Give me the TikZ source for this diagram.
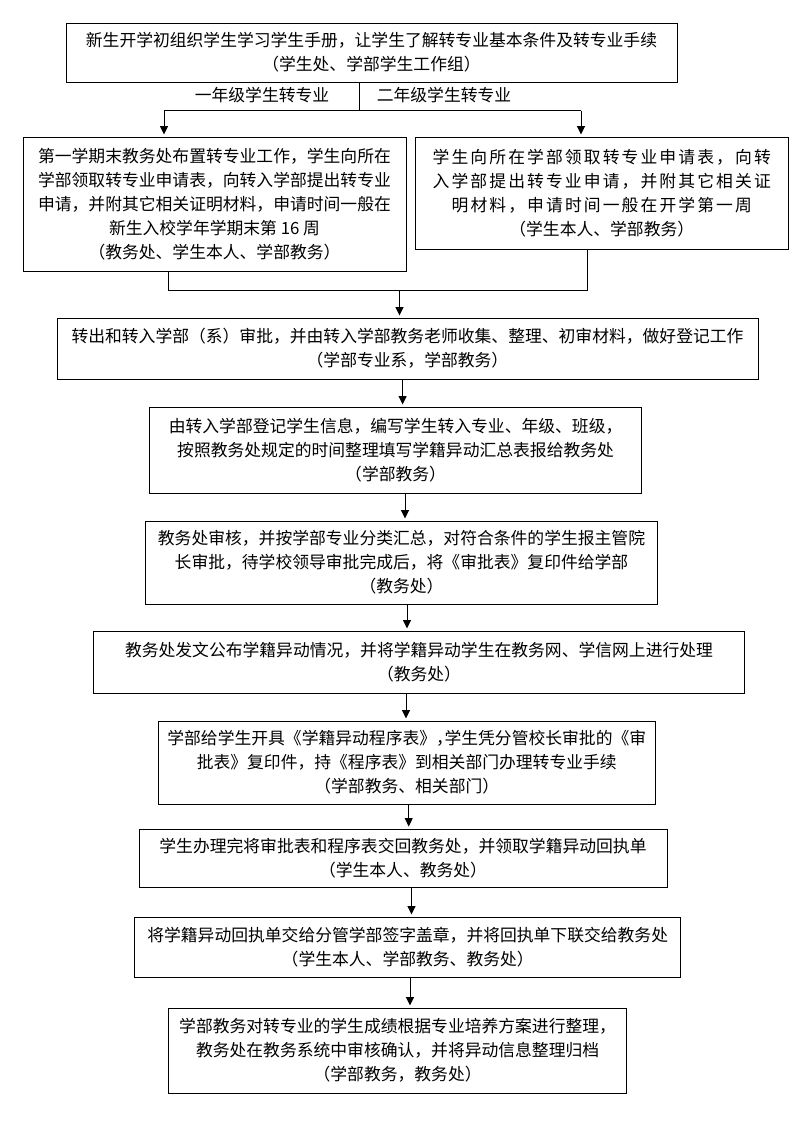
\documentclass[tikz,border=0pt]{standalone}
\usepackage{fontspec}
\setmainfont{Noto Sans CJK SC}
\newfontfamily\widecjk[LetterSpace=12.5]{Noto Sans CJK SC}
\usetikzlibrary{arrows.meta}
\tikzset{
  box/.style={draw, line width=1pt, inner sep=0pt, align=center,
    font=\fontsize{16.8}{24}\selectfont},
  lbl/.style={inner sep=0pt, font=\fontsize{16.8}{24}\selectfont},
  conn/.style={line width=1pt},
  arr/.style={line width=1pt, -{Triangle[length=8.5pt,width=8pt]}, shorten >=2pt}
}
\begin{document}
\begin{tikzpicture}[x=1pt,y=-1pt]
\useasboundingbox[fill=white] (0,0) rectangle (806,1144);

\node[box, minimum width=611, minimum height=59] (b1) at (371.5,52.5)
  {新生开学初组织学生学习学生手册，让学生了解转专业基本条件及转专业手续\\（学生处、学部学生工作组）};

\node[box, minimum width=383, minimum height=134] (b2) at (214.5,204)
  {第一学期末教务处布置转专业工作，学生向所在\\学部领取转专业申请表，向转入学部提出转专业\\申请，并附其它相关证明材料，申请时间一般在\\新生入校学年学期末第 16 周\\（教务处、学生本人、学部教务）};

\node[box, minimum width=372.5, minimum height=112] (b3) at (601.75,193)
  {{\widecjk 学生向所在学部领取转专业申请表，向转}\\{\widecjk 入学部提出转专业申请，并附其它相关证}\\{\widecjk 明材料，申请时间一般在开学第一周}\\（学生本人、学部教务）};

\node[box, minimum width=701, minimum height=61] (b4) at (407.5,348.5)
  {转出和转入学部（系）审批，并由转入学部教务老师收集、整理、初审材料，做好登记工作\\（学部专业系，学部教务）};

\node[box, minimum width=492, minimum height=86] (b5) at (395.6,450)
  {由转入学部登记学生信息，编写学生转入专业、年级、班级，\\按照教务处规定的时间整理填写学籍异动汇总表报给教务处\\（学部教务）};

\node[box, minimum width=512, minimum height=83] (b6) at (401.5,562.5)
  {教务处审核，并按学部专业分类汇总，对符合条件的学生报主管院\\长审批，待学校领导审批完成后，将《审批表》复印件给学部\\（教务处）};

\node[box, minimum width=651, minimum height=62] (b7) at (419,662)
  {教务处发文公布学籍异动情况，并将学籍异动学生在教务网、学信网上进行处理\\（教务处）};

\node[box, minimum width=497.5, minimum height=83] (b8) at (406.75,762.5)
  {学部给学生开具《学籍异动程序表》{\addfontfeature{RawFeature=+halt}，}学生凭分管校长审批的《审\\批表》复印件，持《程序表》到相关部门办理转专业手续\\（学部教务、相关部门）};

\node[box, minimum width=528, minimum height=58] (b9) at (403,858)
  {学生办理完将审批表和程序表交回教务处，并领取学籍异动回执单\\（学生本人、教务处）};

\node[box, minimum width=546, minimum height=60] (b10) at (407.7,947)
  {将学籍异动回执单交给分管学部签字盖章，并将回执单下联交给教务处\\（学生本人、学部教务、教务处）};

\node[box, minimum width=458, minimum height=85] (b11) at (397.6,1050.5)
  {学部教务对转专业的学生成绩根据专业培养方案进行整理，\\教务处在教务系统中审核确认，并将异动信息整理归档\\（学部教务，教务处）};

% labels
\node[lbl] (l1) at (262,95) {一年级学生转专业};
\node[lbl] (l2) at (444,95) {二年级学生转专业};

% split
\coordinate (s) at (359,110.5);
\coordinate (sl) at (164,110.5);
\coordinate (sr) at (581,110.5);
\draw[conn] (b1.south -| s) -- (s);
\draw[conn] (sl) -- (sr);
\draw[arr] (sl) -- (sl |- b2.north);
\draw[arr] (sr) -- (sr |- b3.north);

% merge
\coordinate (ml) at (168.6,290.5);
\coordinate (mr) at (587.7,290.5);
\coordinate (m) at (399.5,290.5);
\draw[conn] (ml |- b2.south) -- (ml) -- (mr) -- (mr |- b3.south);
\draw[arr] (m) -- (m |- b4.north);

% vertical arrows
\coordinate (a45) at (402.6,0);
\coordinate (a56) at (405,0);
\coordinate (a67) at (407,0);
\coordinate (a78) at (406,0);
\coordinate (a89) at (408.7,0);
\coordinate (a910) at (411.5,0);
\coordinate (a1011) at (410,0);
\draw[arr] (b4.south -| a45) -- (b5.north -| a45);
\draw[arr] (b5.south -| a56) -- (b6.north -| a56);
\draw[arr] (b6.south -| a67) -- (b7.north -| a67);
\draw[arr] (b7.south -| a78) -- (b8.north -| a78);
\draw[arr] (b8.south -| a89) -- (b9.north -| a89);
\draw[arr] (b9.south -| a910) -- (b10.north -| a910);
\draw[arr] (b10.south -| a1011) -- (b11.north -| a1011);
\end{tikzpicture}
\end{document}
